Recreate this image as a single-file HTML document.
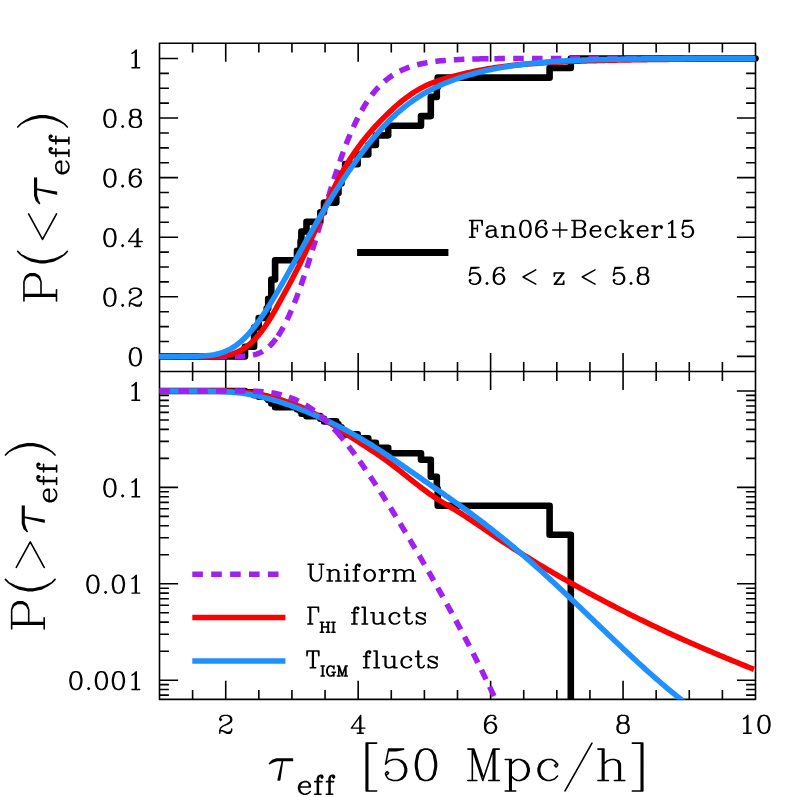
<!DOCTYPE html>
<html><head><meta charset="utf-8"><title>chart</title><style>html,body{margin:0;padding:0;background:#fff}svg{display:block}</style></head><body>
<svg width="797" height="797" viewBox="0 0 797 797">
<rect width="797" height="797" fill="#fff"/>
<defs><clipPath id="cb"><rect x="159.5" y="371.5" width="596" height="327.9"/></clipPath>
<clipPath id="ct"><rect x="159.5" y="43.2" width="602" height="328.3"/></clipPath></defs>
<g fill="none" stroke="#000" stroke-width="1.6" stroke-linejoin="round">
<path d="M192.61 43.2v9.4M192.61 362.1v18.8M192.61 699.4v-9.4M225.72 43.2v18.6M225.72 352.9v37.2M225.72 699.4v-18.6M258.83 43.2v9.4M258.83 362.1v18.8M258.83 699.4v-9.4M291.94 43.2v9.4M291.94 362.1v18.8M291.94 699.4v-9.4M325.06 43.2v9.4M325.06 362.1v18.8M325.06 699.4v-9.4M358.17 43.2v18.6M358.17 352.9v37.2M358.17 699.4v-18.6M391.28 43.2v9.4M391.28 362.1v18.8M391.28 699.4v-9.4M424.39 43.2v9.4M424.39 362.1v18.8M424.39 699.4v-9.4M457.5 43.2v9.4M457.5 362.1v18.8M457.5 699.4v-9.4M490.61 43.2v18.6M490.61 352.9v37.2M490.61 699.4v-18.6M523.72 43.2v9.4M523.72 362.1v18.8M523.72 699.4v-9.4M556.83 43.2v9.4M556.83 362.1v18.8M556.83 699.4v-9.4M589.94 43.2v9.4M589.94 362.1v18.8M589.94 699.4v-9.4M623.06 43.2v18.6M623.06 352.9v37.2M623.06 699.4v-18.6M656.17 43.2v9.4M656.17 362.1v18.8M656.17 699.4v-9.4M689.28 43.2v9.4M689.28 362.1v18.8M689.28 699.4v-9.4M722.39 43.2v9.4M722.39 362.1v18.8M722.39 699.4v-9.4M159.5 356.4h18.6M755.5 356.4h-18.6M159.5 341.5h9.4M755.5 341.5h-9.4M159.5 326.6h9.4M755.5 326.6h-9.4M159.5 311.71h9.4M755.5 311.71h-9.4M159.5 296.81h18.6M755.5 296.81h-18.6M159.5 281.91h9.4M755.5 281.91h-9.4M159.5 267.01h9.4M755.5 267.01h-9.4M159.5 252.12h9.4M755.5 252.12h-9.4M159.5 237.22h18.6M755.5 237.22h-18.6M159.5 222.32h9.4M755.5 222.32h-9.4M159.5 207.42h9.4M755.5 207.42h-9.4M159.5 192.53h9.4M755.5 192.53h-9.4M159.5 177.63h18.6M755.5 177.63h-18.6M159.5 162.73h9.4M755.5 162.73h-9.4M159.5 147.83h9.4M755.5 147.83h-9.4M159.5 132.94h9.4M755.5 132.94h-9.4M159.5 118.04h18.6M755.5 118.04h-18.6M159.5 103.14h9.4M755.5 103.14h-9.4M159.5 88.25h9.4M755.5 88.25h-9.4M159.5 73.35h9.4M755.5 73.35h-9.4M159.5 58.45h18.6M755.5 58.45h-18.6M159.5 391h18.6M755.5 391h-18.6M159.5 487.4h18.6M755.5 487.4h-18.6M159.5 458.38h9.4M755.5 458.38h-9.4M159.5 441.41h9.4M755.5 441.41h-9.4M159.5 429.36h9.4M755.5 429.36h-9.4M159.5 420.02h9.4M755.5 420.02h-9.4M159.5 412.39h9.4M755.5 412.39h-9.4M159.5 405.93h9.4M755.5 405.93h-9.4M159.5 400.34h9.4M755.5 400.34h-9.4M159.5 395.41h9.4M755.5 395.41h-9.4M159.5 583.8h18.6M755.5 583.8h-18.6M159.5 554.78h9.4M755.5 554.78h-9.4M159.5 537.81h9.4M755.5 537.81h-9.4M159.5 525.76h9.4M755.5 525.76h-9.4M159.5 516.42h9.4M755.5 516.42h-9.4M159.5 508.79h9.4M755.5 508.79h-9.4M159.5 502.33h9.4M755.5 502.33h-9.4M159.5 496.74h9.4M755.5 496.74h-9.4M159.5 491.81h9.4M755.5 491.81h-9.4M159.5 680.2h18.6M755.5 680.2h-18.6M159.5 651.18h9.4M755.5 651.18h-9.4M159.5 634.21h9.4M755.5 634.21h-9.4M159.5 622.16h9.4M755.5 622.16h-9.4M159.5 612.82h9.4M755.5 612.82h-9.4M159.5 605.19h9.4M755.5 605.19h-9.4M159.5 598.73h9.4M755.5 598.73h-9.4M159.5 593.14h9.4M755.5 593.14h-9.4M159.5 588.21h9.4M755.5 588.21h-9.4M159.5 695.13h9.4M755.5 695.13h-9.4M159.5 689.54h9.4M755.5 689.54h-9.4M159.5 684.61h9.4M755.5 684.61h-9.4"/>
<path d="M159.5 43.2H755.5V699.4H159.5Z M159.5 371.5H755.5" stroke-linecap="square"/>
</g>
<g fill="none" stroke-linejoin="round">
<path d="M159.5 356.4 L245 356.4 L245 346.79 L254.1 346.79 L254.1 337.18 L254.1 337.18 L254.1 327.57 L258.7 327.57 L258.7 317.95 L266.7 317.95 L266.7 308.34 L268.2 308.34 L268.2 298.73 L271.3 298.73 L271.3 289.12 L271.3 289.12 L271.3 279.51 L275.1 279.51 L275.1 269.9 L275.1 269.9 L275.1 260.29 L297 260.29 L297 250.68 L300.6 250.68 L300.6 241.06 L301.4 241.06 L301.4 231.45 L306.5 231.45 L306.5 221.84 L320.3 221.84 L320.3 212.23 L324 212.23 L324 202.62 L336.3 202.62 L336.3 193.01 L338.5 193.01 L338.5 183.4 L341.5 183.4 L341.5 173.79 L345.1 173.79 L345.1 164.17 L357.7 164.17 L357.7 154.56 L368.3 154.56 L368.3 144.95 L375.9 144.95 L375.9 135.34 L388.2 135.34 L388.2 125.73 L421 125.73 L421 116.12 L430.8 116.12 L430.8 106.51 L430.8 106.51 L430.8 96.9 L436.8 96.9 L436.8 87.28 L437.7 87.28 L437.7 77.67 L549.6 77.67 L549.6 68.06 L570.8 68.06 L570.8 58.45 L755.5 58.45" stroke="#000" stroke-width="6.6"/>
<circle cx="755.5" cy="58.45" r="3.3" fill="#000" stroke="none"/>
<path d="M159.5 356.4 L236.6 356.34 L238.6 356.3 L240.6 356.26 L242.6 356.19 L244.6 356.09 L246.6 355.94 L248.6 355.74 L250.6 355.46 L252.6 355.1 L254.6 354.63 L256.6 354.04 L258.6 353.32 L260.6 352.44 L262.6 351.38 L264.6 350.14 L266.6 348.69 L268.6 347.02 L270.6 345.13 L272.6 343 L274.6 340.61 L276.6 337.98 L278.6 335.08 L280.6 331.92 L282.6 328.49 L284.6 324.79 L286.6 320.84 L288.6 316.63 L290.6 312.17 L292.6 307.46 L294.6 302.53 L296.6 297.37 L298.6 292 L300.6 286.43 L302.6 280.67 L304.6 274.74 L306.6 268.64 L308.6 262.4 L310.6 256.01 L312.6 249.51 L314.6 242.92 L316.6 236.26 L318.6 229.56 L320.6 222.83 L322.6 216.11 L324.6 209.41 L326.6 202.77 L328.6 196.19 L330.6 189.71 L332.6 183.34 L334.6 177.09 L336.6 170.99 L338.6 165.05 L340.6 159.28 L342.6 153.7 L344.6 148.3 L346.6 143.1 L348.6 138.1 L350.6 133.32 L352.6 128.74 L354.6 124.37 L356.6 120.22 L358.6 116.27 L360.6 112.52 L362.6 108.98 L364.6 105.63 L366.6 102.46 L368.6 99.48 L370.6 96.67 L372.6 94.03 L374.6 91.55 L376.6 89.23 L378.6 87.05 L380.6 85.01 L382.6 83.1 L384.6 81.32 L386.6 79.65 L388.6 78.1 L390.6 76.65 L392.6 75.31 L394.6 74.05 L396.6 72.89 L398.6 71.8 L400.6 70.79 L402.6 69.86 L404.6 68.99 L406.6 68.18 L408.6 67.44 L410.6 66.74 L412.6 66.1 L414.6 65.51 L416.6 64.96 L418.6 64.45 L420.6 63.98 L422.6 63.54 L424.6 63.14 L426.6 62.77 L428.6 62.43 L430.6 62.11 L432.6 61.82 L434.6 61.54 L436.6 61.29 L438.6 61.06 L440.6 60.85 L442.6 60.65 L444.6 60.47 L446.6 60.31 L448.6 60.15 L450.6 60.01 L452.6 59.88 L454.6 59.76 L456.6 59.65 L458.6 59.55 L460.6 59.45 L462.6 59.37 L464.6 59.29 L466.6 59.21 L468.6 59.15 L470.6 59.09 L472.6 59.03 L474.6 58.98 L476.6 58.93 L478.6 58.89 L480.6 58.85 L482.6 58.81 L484.6 58.78 L486.6 58.75 L488.6 58.72 L490.6 58.69 L492.6 58.67 L494.6 58.65 L496.6 58.63 L498.6 58.61 L500.6 58.59 L502.6 58.58 L504.6 58.57 L755.5 58.45" stroke="#a020f0" stroke-width="5.5" stroke-dasharray="12.35 7.85 10.5 7.85 10.5 7.85 10.5 7.85 10.5 7.85 10.5 7.85 10.5 3.3 10.5 8.05 10.5 8.05 10.5 8.05 10.5 8.05 10.5 8.05 10.5 8.05 10.5 8.05 10.5 8.05 10.5 8.05 10.5 8.05 10.5 8.05 10.5 8.05 10.5 8.05 10.5 8.05 10.5 8.05 10.5 8.05 10.5 8.05 10.5 8.05 10.5 8.05 10.5 7.9 16.3 5.85 10.5 8.3 10.5 8.3 10.5 8.3 10.5 8.3 10.5 8.3 10.5 8.3 10.5 8.3 10.5 8.3 10.5 8.3 10.5 8.3 10.5 8.3 10.5 8.3 10.5 8.3 10.5 8.3 10.5 10000"/>
<path d="M159.5 356.4 L210 356.34 L212 356.31 L214 356.26 L216 356.2 L218 356.12 L220 356.01 L222 355.85 L224 355.63 L226 355.35 L228 355 L230 354.56 L232 354.02 L234 353.38 L236 352.63 L238 351.75 L240 350.75 L242 349.62 L244 348.36 L246 346.96 L248 345.43 L250 343.76 L252 341.96 L254 340.01 L256 337.92 L258 335.68 L260 333.28 L262 330.71 L264 327.96 L266 325.06 L268 322 L270 318.81 L272 315.49 L274 312.06 L276 308.54 L278 304.96 L280 301.34 L282 297.7 L284 294.05 L286 290.38 L288 286.7 L290 282.99 L292 279.24 L294 275.45 L296 271.6 L298 267.68 L300 263.66 L302 259.54 L304 255.33 L306 251.01 L308 246.62 L310 242.15 L312 237.63 L314 233.05 L316 228.43 L318 223.8 L320 219.17 L322 214.55 L324 209.97 L326 205.44 L328 200.97 L330 196.59 L332 192.3 L334 188.13 L336 184.09 L338 180.18 L340 176.4 L342 172.74 L344 169.21 L346 165.79 L348 162.5 L350 159.31 L352 156.22 L354 153.24 L356 150.35 L358 147.55 L360 144.84 L362 142.21 L364 139.66 L366 137.17 L368 134.76 L370 132.41 L372 130.11 L374 127.87 L376 125.68 L378 123.54 L380 121.44 L382 119.39 L384 117.37 L386 115.38 L388 113.43 L390 111.52 L392 109.64 L394 107.81 L396 106.03 L398 104.29 L400 102.61 L402 100.97 L404 99.39 L406 97.86 L408 96.38 L410 94.97 L412 93.6 L414 92.29 L416 91.04 L418 89.84 L420 88.7 L422 87.62 L424 86.58 L426 85.6 L428 84.68 L430 83.8 L432 82.98 L434 82.2 L436 81.46 L438 80.76 L440 80.1 L442 79.47 L444 78.86 L446 78.28 L448 77.71 L450 77.17 L452 76.64 L454 76.13 L456 75.62 L458 75.13 L460 74.64 L462 74.16 L464 73.69 L466 73.23 L468 72.77 L470 72.32 L472 71.88 L474 71.46 L476 71.04 L478 70.64 L480 70.24 L482 69.86 L484 69.49 L486 69.14 L488 68.79 L490 68.46 L492 68.14 L494 67.84 L496 67.54 L498 67.26 L500 66.98 L502 66.71 L504 66.46 L506 66.21 L508 65.97 L510 65.75 L512 65.52 L514 65.31 L516 65.1 L518 64.91 L520 64.71 L522 64.53 L524 64.35 L526 64.18 L528 64.01 L530 63.85 L532 63.69 L534 63.54 L536 63.4 L538 63.25 L540 63.12 L542 62.99 L544 62.86 L546 62.74 L548 62.62 L550 62.5 L552 62.39 L554 62.28 L556 62.18 L558 62.07 L560 61.97 L562 61.88 L564 61.79 L566 61.7 L568 61.61 L570 61.53 L572 61.44 L574 61.36 L576 61.29 L578 61.21 L580 61.14 L582 61.07 L584 61 L586 60.94 L588 60.87 L590 60.81 L592 60.75 L594 60.69 L596 60.63 L598 60.58 L600 60.52 L602 60.47 L604 60.42 L606 60.37 L608 60.33 L610 60.28 L612 60.23 L614 60.19 L616 60.15 L618 60.11 L620 60.07 L622 60.03 L624 59.99 L626 59.95 L628 59.92 L630 59.88 L632 59.85 L634 59.82 L636 59.79 L638 59.75 L640 59.72 L642 59.69 L644 59.67 L646 59.64 L648 59.61 L650 59.59 L652 59.56 L654 59.53 L656 59.51 L658 59.49 L660 59.46 L662 59.44 L664 59.42 L666 59.4 L668 59.38 L670 59.36 L672 59.34 L674 59.32 L676 59.3 L678 59.28 L680 59.26 L682 59.25 L684 59.23 L686 59.21 L688 59.2 L690 59.18 L692 59.17 L694 59.15 L696 59.14 L698 59.12 L700 59.11 L702 59.1 L704 59.08 L706 59.07 L708 59.06 L710 59.05 L712 59.03 L714 59.02 L716 59.01 L718 59 L720 58.99 L722 58.98 L724 58.97 L726 58.96 L728 58.95 L730 58.94 L732 58.93 L734 58.92 L736 58.91 L738 58.9 L740 58.89 L742 58.88 L744 58.87 L746 58.87 L748 58.86 L750 58.85 L752 58.84 L754 58.84 L755.5 58.45" stroke="#ff0000" stroke-width="5.5"/>
<path d="M159.5 356.4 L188.2 356.34 L190.2 356.32 L192.2 356.29 L194.2 356.25 L196.2 356.21 L198.2 356.15 L200.2 356.08 L202.2 355.98 L204.2 355.86 L206.2 355.72 L208.2 355.53 L210.2 355.31 L212.2 355.02 L214.2 354.68 L216.2 354.27 L218.2 353.8 L220.2 353.24 L222.2 352.6 L224.2 351.87 L226.2 351.05 L228.2 350.11 L230.2 349.07 L232.2 347.92 L234.2 346.65 L236.2 345.26 L238.2 343.74 L240.2 342.1 L242.2 340.34 L244.2 338.45 L246.2 336.44 L248.2 334.31 L250.2 332.05 L252.2 329.69 L254.2 327.2 L256.2 324.61 L258.2 321.92 L260.2 319.13 L262.2 316.24 L264.2 313.27 L266.2 310.21 L268.2 307.08 L270.2 303.88 L272.2 300.62 L274.2 297.3 L276.2 293.93 L278.2 290.52 L280.2 287.07 L282.2 283.59 L284.2 280.08 L286.2 276.54 L288.2 272.99 L290.2 269.43 L292.2 265.86 L294.2 262.28 L296.2 258.7 L298.2 255.13 L300.2 251.56 L302.2 248 L304.2 244.44 L306.2 240.9 L308.2 237.37 L310.2 233.86 L312.2 230.37 L314.2 226.89 L316.2 223.43 L318.2 220 L320.2 216.59 L322.2 213.21 L324.2 209.85 L326.2 206.52 L328.2 203.23 L330.2 199.96 L332.2 196.73 L334.2 193.52 L336.2 190.35 L338.2 187.22 L340.2 184.12 L342.2 181.05 L344.2 178.02 L346.2 175.02 L348.2 172.06 L350.2 169.13 L352.2 166.24 L354.2 163.38 L356.2 160.56 L358.2 157.79 L360.2 155.05 L362.2 152.36 L364.2 149.72 L366.2 147.11 L368.2 144.56 L370.2 142.06 L372.2 139.6 L374.2 137.19 L376.2 134.83 L378.2 132.53 L380.2 130.27 L382.2 128.07 L384.2 125.92 L386.2 123.82 L388.2 121.77 L390.2 119.77 L392.2 117.83 L394.2 115.94 L396.2 114.1 L398.2 112.31 L400.2 110.57 L402.2 108.88 L404.2 107.24 L406.2 105.66 L408.2 104.12 L410.2 102.63 L412.2 101.19 L414.2 99.79 L416.2 98.44 L418.2 97.13 L420.2 95.87 L422.2 94.65 L424.2 93.47 L426.2 92.32 L428.2 91.22 L430.2 90.15 L432.2 89.12 L434.2 88.12 L436.2 87.15 L438.2 86.22 L440.2 85.31 L442.2 84.44 L444.2 83.59 L446.2 82.77 L448.2 81.97 L450.2 81.2 L452.2 80.45 L454.2 79.72 L456.2 79.01 L458.2 78.33 L460.2 77.66 L462.2 77.01 L464.2 76.38 L466.2 75.77 L468.2 75.18 L470.2 74.6 L472.2 74.04 L474.2 73.5 L476.2 72.97 L478.2 72.46 L480.2 71.97 L482.2 71.49 L484.2 71.02 L486.2 70.57 L488.2 70.13 L490.2 69.7 L492.2 69.29 L494.2 68.89 L496.2 68.5 L498.2 68.13 L500.2 67.76 L502.2 67.41 L504.2 67.07 L506.2 66.74 L508.2 66.42 L510.2 66.11 L512.2 65.81 L514.2 65.53 L516.2 65.25 L518.2 64.98 L520.2 64.72 L522.2 64.46 L524.2 64.22 L526.2 63.99 L528.2 63.76 L530.2 63.54 L532.2 63.33 L534.2 63.13 L536.2 62.93 L538.2 62.75 L540.2 62.57 L542.2 62.39 L544.2 62.23 L546.2 62.06 L548.2 61.91 L550.2 61.76 L552.2 61.62 L554.2 61.48 L556.2 61.35 L558.2 61.22 L560.2 61.1 L562.2 60.99 L564.2 60.88 L566.2 60.77 L568.2 60.67 L570.2 60.57 L572.2 60.48 L574.2 60.39 L576.2 60.3 L578.2 60.22 L580.2 60.14 L582.2 60.06 L584.2 59.99 L586.2 59.92 L588.2 59.86 L590.2 59.79 L592.2 59.73 L594.2 59.68 L596.2 59.62 L598.2 59.57 L600.2 59.52 L602.2 59.47 L604.2 59.42 L606.2 59.38 L608.2 59.34 L610.2 59.3 L612.2 59.26 L614.2 59.23 L616.2 59.19 L618.2 59.16 L620.2 59.13 L622.2 59.1 L624.2 59.07 L626.2 59.04 L628.2 59.02 L630.2 58.99 L632.2 58.97 L634.2 58.94 L636.2 58.92 L638.2 58.9 L640.2 58.88 L642.2 58.87 L644.2 58.85 L646.2 58.83 L648.2 58.81 L650.2 58.8 L652.2 58.78 L654.2 58.77 L656.2 58.76 L658.2 58.75 L660.2 58.73 L662.2 58.72 L664.2 58.71 L666.2 58.7 L668.2 58.69 L670.2 58.68 L672.2 58.67 L674.2 58.66 L676.2 58.66 L678.2 58.65 L680.2 58.64 L682.2 58.63 L684.2 58.63 L686.2 58.62 L688.2 58.62 L690.2 58.61 L692.2 58.6 L694.2 58.6 L696.2 58.59 L698.2 58.59 L755.5 58.45" stroke="#1e90ff" stroke-width="5.5"/>
</g>
<g fill="none" stroke-linejoin="round" clip-path="url(#cb)">
<path d="M159.5 391 L245 391 L245 392.37 L254.1 392.37 L254.1 393.79 L254.1 393.79 L254.1 395.26 L258.7 395.26 L258.7 396.78 L266.7 396.78 L266.7 398.36 L268.2 398.36 L268.2 400.01 L271.3 400.01 L271.3 401.71 L271.3 401.71 L271.3 403.5 L275.1 403.5 L275.1 405.36 L275.1 405.36 L275.1 407.31 L297 407.31 L297 409.35 L300.6 409.35 L300.6 411.5 L301.4 411.5 L301.4 413.76 L306.5 413.76 L306.5 416.15 L320.3 416.15 L320.3 418.69 L324 418.69 L324 421.39 L336.3 421.39 L336.3 424.28 L338.5 424.28 L338.5 427.38 L341.5 427.38 L341.5 430.73 L345.1 430.73 L345.1 434.38 L357.7 434.38 L357.7 438.37 L368.3 438.37 L368.3 442.78 L375.9 442.78 L375.9 447.71 L388.2 447.71 L388.2 453.3 L421 453.3 L421 459.75 L430.8 459.75 L430.8 467.39 L430.8 467.39 L430.8 476.73 L436.8 476.73 L436.8 488.77 L437.7 488.77 L437.7 505.75 L549.6 505.75 L549.6 534.77 L570.8 534.77 L570.8 699.4" stroke="#000" stroke-width="6.6"/>
<path d="M159.5 391 L210 391.01 L212 391.01 L214 391.02 L216 391.03 L218 391.04 L220 391.06 L222 391.08 L224 391.11 L226 391.15 L228 391.2 L230 391.26 L232 391.34 L234 391.43 L236 391.53 L238 391.66 L240 391.8 L242 391.96 L244 392.15 L246 392.35 L248 392.57 L250 392.81 L252 393.08 L254 393.37 L256 393.68 L258 394.02 L260 394.38 L262 394.78 L264 395.2 L266 395.65 L268 396.14 L270 396.65 L272 397.18 L274 397.75 L276 398.33 L278 398.93 L280 399.55 L282 400.19 L284 400.83 L286 401.49 L288 402.16 L290 402.84 L292 403.55 L294 404.27 L296 405.02 L298 405.8 L300 406.61 L302 407.46 L304 408.35 L306 409.27 L308 410.24 L310 411.25 L312 412.29 L314 413.37 L316 414.5 L318 415.65 L320 416.84 L322 418.06 L324 419.31 L326 420.58 L328 421.87 L330 423.18 L332 424.5 L334 425.83 L336 427.15 L338 428.48 L340 429.8 L342 431.12 L344 432.43 L346 433.74 L348 435.05 L350 436.35 L352 437.65 L354 438.95 L356 440.24 L358 441.54 L360 442.83 L362 444.13 L364 445.42 L366 446.72 L368 448.03 L370 449.34 L372 450.66 L374 451.99 L376 453.33 L378 454.68 L380 456.05 L382 457.44 L384 458.86 L386 460.29 L388 461.75 L390 463.23 L392 464.74 L394 466.26 L396 467.8 L398 469.36 L400 470.93 L402 472.51 L404 474.1 L406 475.69 L408 477.29 L410 478.88 L412 480.48 L414 482.07 L416 483.64 L418 485.21 L420 486.76 L422 488.29 L424 489.8 L426 491.29 L428 492.74 L430 494.16 L432 495.54 L434 496.89 L436 498.21 L438 499.5 L440 500.77 L442 502.01 L444 503.24 L446 504.46 L448 505.66 L450 506.86 L452 508.06 L454 509.26 L456 510.47 L458 511.69 L460 512.93 L462 514.19 L464 515.47 L466 516.76 L468 518.08 L470 519.41 L472 520.75 L474 522.1 L476 523.46 L478 524.83 L480 526.2 L482 527.57 L484 528.95 L486 530.32 L488 531.69 L490 533.05 L492 534.41 L494 535.76 L496 537.1 L498 538.43 L500 539.76 L502 541.09 L504 542.4 L506 543.71 L508 545.01 L510 546.31 L512 547.6 L514 548.88 L516 550.16 L518 551.43 L520 552.7 L522 553.95 L524 555.21 L526 556.45 L528 557.69 L530 558.92 L532 560.15 L534 561.37 L536 562.59 L538 563.8 L540 565 L542 566.2 L544 567.39 L546 568.58 L548 569.76 L550 570.94 L552 572.12 L554 573.28 L556 574.45 L558 575.61 L560 576.76 L562 577.91 L564 579.06 L566 580.2 L568 581.34 L570 582.47 L572 583.6 L574 584.73 L576 585.85 L578 586.96 L580 588.07 L582 589.18 L584 590.28 L586 591.38 L588 592.48 L590 593.57 L592 594.65 L594 595.73 L596 596.81 L598 597.88 L600 598.95 L602 600.01 L604 601.07 L606 602.12 L608 603.17 L610 604.22 L612 605.26 L614 606.29 L616 607.33 L618 608.35 L620 609.38 L622 610.39 L624 611.41 L626 612.42 L628 613.42 L630 614.43 L632 615.42 L634 616.42 L636 617.4 L638 618.39 L640 619.37 L642 620.34 L644 621.31 L646 622.28 L648 623.25 L650 624.2 L652 625.16 L654 626.11 L656 627.06 L658 628 L660 628.94 L662 629.87 L664 630.8 L666 631.73 L668 632.66 L670 633.58 L672 634.49 L674 635.4 L676 636.31 L678 637.22 L680 638.12 L682 639.02 L684 639.91 L686 640.8 L688 641.69 L690 642.57 L692 643.45 L694 644.33 L696 645.2 L698 646.07 L700 646.94 L702 647.81 L704 648.67 L706 649.53 L708 650.38 L710 651.23 L712 652.08 L714 652.93 L716 653.77 L718 654.62 L720 655.45 L722 656.29 L724 657.12 L726 657.96 L728 658.78 L730 659.61 L732 660.43 L734 661.26 L736 662.08 L738 662.89 L740 663.71 L742 664.52 L744 665.33 L746 666.14 L748 666.95 L750 667.76 L752 668.56 L754 669.37" stroke="#ff0000" stroke-width="5.5"/>
<path d="M159.5 391 L188.2 391.01 L190.2 391.01 L192.2 391.02 L194.2 391.02 L196.2 391.03 L198.2 391.04 L200.2 391.05 L202.2 391.06 L204.2 391.08 L206.2 391.1 L208.2 391.12 L210.2 391.15 L212.2 391.19 L214.2 391.24 L216.2 391.3 L218.2 391.37 L220.2 391.45 L222.2 391.54 L224.2 391.64 L226.2 391.76 L228.2 391.89 L230.2 392.04 L232.2 392.21 L234.2 392.39 L236.2 392.6 L238.2 392.82 L240.2 393.06 L242.2 393.32 L244.2 393.6 L246.2 393.9 L248.2 394.23 L250.2 394.57 L252.2 394.93 L254.2 395.32 L256.2 395.72 L258.2 396.15 L260.2 396.59 L262.2 397.06 L264.2 397.55 L266.2 398.05 L268.2 398.58 L270.2 399.12 L272.2 399.68 L274.2 400.26 L276.2 400.85 L278.2 401.46 L280.2 402.09 L282.2 402.73 L284.2 403.39 L286.2 404.06 L288.2 404.75 L290.2 405.45 L292.2 406.17 L294.2 406.89 L296.2 407.64 L298.2 408.39 L300.2 409.16 L302.2 409.94 L304.2 410.73 L306.2 411.53 L308.2 412.35 L310.2 413.18 L312.2 414.02 L314.2 414.88 L316.2 415.75 L318.2 416.63 L320.2 417.52 L322.2 418.43 L324.2 419.34 L326.2 420.27 L328.2 421.22 L330.2 422.17 L332.2 423.14 L334.2 424.12 L336.2 425.11 L338.2 426.12 L340.2 427.14 L342.2 428.18 L344.2 429.23 L346.2 430.29 L348.2 431.37 L350.2 432.46 L352.2 433.57 L354.2 434.69 L356.2 435.83 L358.2 436.99 L360.2 438.15 L362.2 439.34 L364.2 440.53 L366.2 441.74 L368.2 442.97 L370.2 444.2 L372.2 445.45 L374.2 446.71 L376.2 447.99 L378.2 449.27 L380.2 450.56 L382.2 451.87 L384.2 453.18 L386.2 454.51 L388.2 455.84 L390.2 457.18 L392.2 458.53 L394.2 459.88 L396.2 461.25 L398.2 462.61 L400.2 463.99 L402.2 465.37 L404.2 466.75 L406.2 468.13 L408.2 469.52 L410.2 470.91 L412.2 472.3 L414.2 473.69 L416.2 475.08 L418.2 476.47 L420.2 477.86 L422.2 479.25 L424.2 480.64 L426.2 482.03 L428.2 483.42 L430.2 484.81 L432.2 486.19 L434.2 487.58 L436.2 488.96 L438.2 490.35 L440.2 491.74 L442.2 493.13 L444.2 494.52 L446.2 495.91 L448.2 497.3 L450.2 498.7 L452.2 500.11 L454.2 501.51 L456.2 502.93 L458.2 504.35 L460.2 505.78 L462.2 507.21 L464.2 508.65 L466.2 510.1 L468.2 511.56 L470.2 513.03 L472.2 514.51 L474.2 515.99 L476.2 517.48 L478.2 518.98 L480.2 520.49 L482.2 522.01 L484.2 523.54 L486.2 525.07 L488.2 526.62 L490.2 528.17 L492.2 529.74 L494.2 531.31 L496.2 532.89 L498.2 534.48 L500.2 536.09 L502.2 537.7 L504.2 539.32 L506.2 540.95 L508.2 542.6 L510.2 544.25 L512.2 545.92 L514.2 547.59 L516.2 549.28 L518.2 550.98 L520.2 552.68 L522.2 554.4 L524.2 556.13 L526.2 557.86 L528.2 559.61 L530.2 561.36 L532.2 563.13 L534.2 564.9 L536.2 566.68 L538.2 568.47 L540.2 570.27 L542.2 572.08 L544.2 573.89 L546.2 575.71 L548.2 577.54 L550.2 579.38 L552.2 581.22 L554.2 583.07 L556.2 584.92 L558.2 586.78 L560.2 588.65 L562.2 590.52 L564.2 592.4 L566.2 594.28 L568.2 596.17 L570.2 598.06 L572.2 599.96 L574.2 601.86 L576.2 603.76 L578.2 605.67 L580.2 607.58 L582.2 609.49 L584.2 611.4 L586.2 613.32 L588.2 615.24 L590.2 617.15 L592.2 619.07 L594.2 620.99 L596.2 622.91 L598.2 624.84 L600.2 626.76 L602.2 628.67 L604.2 630.59 L606.2 632.51 L608.2 634.42 L610.2 636.34 L612.2 638.25 L614.2 640.15 L616.2 642.06 L618.2 643.96 L620.2 645.85 L622.2 647.74 L624.2 649.63 L626.2 651.51 L628.2 653.38 L630.2 655.25 L632.2 657.12 L634.2 658.97 L636.2 660.82 L638.2 662.66 L640.2 664.49 L642.2 666.32 L644.2 668.13 L646.2 669.94 L648.2 671.73 L650.2 673.52 L652.2 675.29 L654.2 677.06 L656.2 678.81 L658.2 680.55 L660.2 682.28 L662.2 683.99 L664.2 685.7 L666.2 687.38 L668.2 689.06 L670.2 690.72 L672.2 692.36 L674.2 693.99 L676.2 695.61 L678.2 697.2 L680.2 698.78 L682.2 700.35 L684.2 701.89 L686.2 703.42 L688.2 704.93 L690.2 706.42 L692.2 707.89" stroke="#1e90ff" stroke-width="5.5"/>
<path d="M159.5 391 L236.6 391.01 L238.6 391.01 L240.6 391.02 L242.6 391.03 L244.6 391.04 L246.6 391.06 L248.6 391.09 L250.6 391.13 L252.6 391.18 L254.6 391.25 L256.6 391.33 L258.6 391.44 L260.6 391.56 L262.6 391.71 L264.6 391.89 L266.6 392.1 L268.6 392.34 L270.6 392.61 L272.6 392.93 L274.6 393.28 L276.6 393.67 L278.6 394.11 L280.6 394.59 L282.6 395.12 L284.6 395.69 L286.6 396.32 L288.6 397 L290.6 397.73 L292.6 398.51 L294.6 399.35 L296.6 400.24 L298.6 401.2 L300.6 402.21 L302.6 403.28 L304.6 404.41 L306.6 405.61 L308.6 406.87 L310.6 408.2 L312.6 409.6 L314.6 411.07 L316.6 412.61 L318.6 414.22 L320.6 415.9 L322.6 417.65 L324.6 419.46 L326.6 421.35 L328.6 423.3 L330.6 425.32 L332.6 427.4 L334.6 429.55 L336.6 431.76 L338.6 434.03 L340.6 436.36 L342.6 438.75 L344.6 441.19 L346.6 443.68 L348.6 446.23 L350.6 448.83 L352.6 451.47 L354.6 454.15 L356.6 456.88 L358.6 459.64 L360.6 462.45 L362.6 465.29 L364.6 468.16 L366.6 471.07 L368.6 474 L370.6 476.97 L372.6 479.97 L374.6 482.99 L376.6 486.04 L378.6 489.11 L380.6 492.21 L382.6 495.33 L384.6 498.48 L386.6 501.64 L388.6 504.82 L390.6 508.03 L392.6 511.25 L394.6 514.48 L396.6 517.74 L398.6 521.01 L400.6 524.29 L402.6 527.59 L404.6 530.91 L406.6 534.24 L408.6 537.58 L410.6 540.94 L412.6 544.3 L414.6 547.69 L416.6 551.08 L418.6 554.49 L420.6 557.91 L422.6 561.34 L424.6 564.79 L426.6 568.24 L428.6 571.72 L430.6 575.2 L432.6 578.7 L434.6 582.21 L436.6 585.74 L438.6 589.28 L440.6 592.83 L442.6 596.4 L444.6 599.99 L446.6 603.59 L448.6 607.22 L450.6 610.86 L452.6 614.51 L454.6 618.19 L456.6 621.89 L458.6 625.61 L460.6 629.35 L462.6 633.12 L464.6 636.91 L466.6 640.72 L468.6 644.56 L470.6 648.43 L472.6 652.33 L474.6 656.26 L476.6 660.22 L478.6 664.21 L480.6 668.24 L482.6 672.3 L484.6 676.4 L486.6 680.53 L488.6 684.71 L490.6 688.93 L492.6 693.19 L494.6 697.49 L496.6 701.85 L498.6 706.25 L500.6 710.66" stroke="#a020f0" stroke-width="5.5" stroke-dasharray="10.65 8.3 10.5 8.3 10.5 8.3 10.5 8.3 10.5 7.7 10.5 7.9 10.5 7.6 10.5 7.8 10.5 7.9 10.5 8.25 15 7.85 10.5 8.11 10.5 8.11 10.5 8.11 10.5 8.11 10.5 8.11 10.5 8.11 10.5 8.11 10.5 8.11 10.5 8.11 10.5 8.11 10.5 8.11 10.5 8.11 10.5 8.11 10.5 8.11 10.5 8.11 10.5 10000"/>
</g>
<path d="M357.1 252.4H448.4" stroke="#000" stroke-width="7" fill="none"/>
<path d="M192.3 574.3H285.4" stroke="#a020f0" stroke-width="5.4" stroke-dasharray="10.6 8.3" fill="none"/>
<path d="M192.3 617.5H285.4" stroke="#ff0000" stroke-width="5.5" fill="none"/>
<path d="M192.3 661.1H285.4" stroke="#1e90ff" stroke-width="5.5" fill="none"/>
<path d="M-11.9 -14.45 L-10.2 -15.3 L-7.65 -17.85 L-7.65 0 M-8.5 -17 L-8.5 0 M-11.9 0 L-4.25 0" transform="translate(143.9 67.77) rotate(0) scale(1 1)" vector-effect="non-scaling-stroke" fill="none" stroke="#000" stroke-width="1.45" stroke-linecap="round" stroke-linejoin="round"/>
<path d="M-34.85 -17.85 L-37.4 -17 L-39.1 -14.45 L-39.95 -10.2 L-39.95 -7.65 L-39.1 -3.4 L-37.4 -0.85 L-34.85 0 L-33.15 0 L-30.6 -0.85 L-28.9 -3.4 L-28.05 -7.65 L-28.05 -10.2 L-28.9 -14.45 L-30.6 -17 L-33.15 -17.85 L-34.85 -17.85 M-34.85 -17.85 L-36.55 -17 L-37.4 -16.15 L-38.25 -14.45 L-39.1 -10.2 L-39.1 -7.65 L-38.25 -3.4 L-37.4 -1.7 L-36.55 -0.85 L-34.85 0 M-33.15 0 L-31.45 -0.85 L-30.6 -1.7 L-29.75 -3.4 L-28.9 -7.65 L-28.9 -10.2 L-29.75 -14.45 L-30.6 -16.15 L-31.45 -17 L-33.15 -17.85 M-21.25 -1.7 L-22.1 -0.85 L-21.25 0 L-20.4 -0.85 L-21.25 -1.7 M-10.2 -17.85 L-12.75 -17 L-13.6 -15.3 L-13.6 -12.75 L-12.75 -11.05 L-10.2 -10.2 L-6.8 -10.2 L-4.25 -11.05 L-3.4 -12.75 L-3.4 -15.3 L-4.25 -17 L-6.8 -17.85 L-10.2 -17.85 M-10.2 -17.85 L-11.9 -17 L-12.75 -15.3 L-12.75 -12.75 L-11.9 -11.05 L-10.2 -10.2 M-6.8 -10.2 L-5.1 -11.05 L-4.25 -12.75 L-4.25 -15.3 L-5.1 -17 L-6.8 -17.85 M-10.2 -10.2 L-12.75 -9.35 L-13.6 -8.5 L-14.45 -6.8 L-14.45 -3.4 L-13.6 -1.7 L-12.75 -0.85 L-10.2 0 L-6.8 0 L-4.25 -0.85 L-3.4 -1.7 L-2.55 -3.4 L-2.55 -6.8 L-3.4 -8.5 L-4.25 -9.35 L-6.8 -10.2 M-10.2 -10.2 L-11.9 -9.35 L-12.75 -8.5 L-13.6 -6.8 L-13.6 -3.4 L-12.75 -1.7 L-11.9 -0.85 L-10.2 0 M-6.8 0 L-5.1 -0.85 L-4.25 -1.7 L-3.4 -3.4 L-3.4 -6.8 L-4.25 -8.5 L-5.1 -9.35 L-6.8 -10.2" transform="translate(143.9 127.36) rotate(0) scale(1 1)" vector-effect="non-scaling-stroke" fill="none" stroke="#000" stroke-width="1.45" stroke-linecap="round" stroke-linejoin="round"/>
<path d="M-34.85 -17.85 L-37.4 -17 L-39.1 -14.45 L-39.95 -10.2 L-39.95 -7.65 L-39.1 -3.4 L-37.4 -0.85 L-34.85 0 L-33.15 0 L-30.6 -0.85 L-28.9 -3.4 L-28.05 -7.65 L-28.05 -10.2 L-28.9 -14.45 L-30.6 -17 L-33.15 -17.85 L-34.85 -17.85 M-34.85 -17.85 L-36.55 -17 L-37.4 -16.15 L-38.25 -14.45 L-39.1 -10.2 L-39.1 -7.65 L-38.25 -3.4 L-37.4 -1.7 L-36.55 -0.85 L-34.85 0 M-33.15 0 L-31.45 -0.85 L-30.6 -1.7 L-29.75 -3.4 L-28.9 -7.65 L-28.9 -10.2 L-29.75 -14.45 L-30.6 -16.15 L-31.45 -17 L-33.15 -17.85 M-21.25 -1.7 L-22.1 -0.85 L-21.25 0 L-20.4 -0.85 L-21.25 -1.7 M-4.25 -15.3 L-5.1 -14.45 L-4.25 -13.6 L-3.4 -14.45 L-3.4 -15.3 L-4.25 -17 L-5.95 -17.85 L-8.5 -17.85 L-11.05 -17 L-12.75 -15.3 L-13.6 -13.6 L-14.45 -10.2 L-14.45 -5.1 L-13.6 -2.55 L-11.9 -0.85 L-9.35 0 L-7.65 0 L-5.1 -0.85 L-3.4 -2.55 L-2.55 -5.1 L-2.55 -5.95 L-3.4 -8.5 L-5.1 -10.2 L-7.65 -11.05 L-8.5 -11.05 L-11.05 -10.2 L-12.75 -8.5 L-13.6 -5.95 M-8.5 -17.85 L-10.2 -17 L-11.9 -15.3 L-12.75 -13.6 L-13.6 -10.2 L-13.6 -5.1 L-12.75 -2.55 L-11.05 -0.85 L-9.35 0 M-7.65 0 L-5.95 -0.85 L-4.25 -2.55 L-3.4 -5.1 L-3.4 -5.95 L-4.25 -8.5 L-5.95 -10.2 L-7.65 -11.05" transform="translate(143.9 186.96) rotate(0) scale(1 1)" vector-effect="non-scaling-stroke" fill="none" stroke="#000" stroke-width="1.45" stroke-linecap="round" stroke-linejoin="round"/>
<path d="M-34.85 -17.85 L-37.4 -17 L-39.1 -14.45 L-39.95 -10.2 L-39.95 -7.65 L-39.1 -3.4 L-37.4 -0.85 L-34.85 0 L-33.15 0 L-30.6 -0.85 L-28.9 -3.4 L-28.05 -7.65 L-28.05 -10.2 L-28.9 -14.45 L-30.6 -17 L-33.15 -17.85 L-34.85 -17.85 M-34.85 -17.85 L-36.55 -17 L-37.4 -16.15 L-38.25 -14.45 L-39.1 -10.2 L-39.1 -7.65 L-38.25 -3.4 L-37.4 -1.7 L-36.55 -0.85 L-34.85 0 M-33.15 0 L-31.45 -0.85 L-30.6 -1.7 L-29.75 -3.4 L-28.9 -7.65 L-28.9 -10.2 L-29.75 -14.45 L-30.6 -16.15 L-31.45 -17 L-33.15 -17.85 M-21.25 -1.7 L-22.1 -0.85 L-21.25 0 L-20.4 -0.85 L-21.25 -1.7 M-6.8 -16.15 L-6.8 0 M-5.95 -17.85 L-5.95 0 M-5.95 -17.85 L-15.3 -5.1 L-1.7 -5.1 M-9.35 0 L-3.4 0" transform="translate(143.9 246.54) rotate(0) scale(1 1)" vector-effect="non-scaling-stroke" fill="none" stroke="#000" stroke-width="1.45" stroke-linecap="round" stroke-linejoin="round"/>
<path d="M-34.85 -17.85 L-37.4 -17 L-39.1 -14.45 L-39.95 -10.2 L-39.95 -7.65 L-39.1 -3.4 L-37.4 -0.85 L-34.85 0 L-33.15 0 L-30.6 -0.85 L-28.9 -3.4 L-28.05 -7.65 L-28.05 -10.2 L-28.9 -14.45 L-30.6 -17 L-33.15 -17.85 L-34.85 -17.85 M-34.85 -17.85 L-36.55 -17 L-37.4 -16.15 L-38.25 -14.45 L-39.1 -10.2 L-39.1 -7.65 L-38.25 -3.4 L-37.4 -1.7 L-36.55 -0.85 L-34.85 0 M-33.15 0 L-31.45 -0.85 L-30.6 -1.7 L-29.75 -3.4 L-28.9 -7.65 L-28.9 -10.2 L-29.75 -14.45 L-30.6 -16.15 L-31.45 -17 L-33.15 -17.85 M-21.25 -1.7 L-22.1 -0.85 L-21.25 0 L-20.4 -0.85 L-21.25 -1.7 M-13.6 -14.45 L-12.75 -13.6 L-13.6 -12.75 L-14.45 -13.6 L-14.45 -14.45 L-13.6 -16.15 L-12.75 -17 L-10.2 -17.85 L-6.8 -17.85 L-4.25 -17 L-3.4 -16.15 L-2.55 -14.45 L-2.55 -12.75 L-3.4 -11.05 L-5.95 -9.35 L-10.2 -7.65 L-11.9 -6.8 L-13.6 -5.1 L-14.45 -2.55 L-14.45 0 M-6.8 -17.85 L-5.1 -17 L-4.25 -16.15 L-3.4 -14.45 L-3.4 -12.75 L-4.25 -11.05 L-6.8 -9.35 L-10.2 -7.65 M-14.45 -1.7 L-13.6 -2.55 L-11.9 -2.55 L-7.65 -0.85 L-5.1 -0.85 L-3.4 -1.7 L-2.55 -2.55 M-11.9 -2.55 L-7.65 0 L-4.25 0 L-3.4 -0.85 L-2.55 -2.55 L-2.55 -4.25" transform="translate(143.9 306.13) rotate(0) scale(1 1)" vector-effect="non-scaling-stroke" fill="none" stroke="#000" stroke-width="1.45" stroke-linecap="round" stroke-linejoin="round"/>
<path d="M-9.35 -17.85 L-11.9 -17 L-13.6 -14.45 L-14.45 -10.2 L-14.45 -7.65 L-13.6 -3.4 L-11.9 -0.85 L-9.35 0 L-7.65 0 L-5.1 -0.85 L-3.4 -3.4 L-2.55 -7.65 L-2.55 -10.2 L-3.4 -14.45 L-5.1 -17 L-7.65 -17.85 L-9.35 -17.85 M-9.35 -17.85 L-11.05 -17 L-11.9 -16.15 L-12.75 -14.45 L-13.6 -10.2 L-13.6 -7.65 L-12.75 -3.4 L-11.9 -1.7 L-11.05 -0.85 L-9.35 0 M-7.65 0 L-5.95 -0.85 L-5.1 -1.7 L-4.25 -3.4 L-3.4 -7.65 L-3.4 -10.2 L-4.25 -14.45 L-5.1 -16.15 L-5.95 -17 L-7.65 -17.85" transform="translate(143.9 365.72) rotate(0) scale(1 1)" vector-effect="non-scaling-stroke" fill="none" stroke="#000" stroke-width="1.45" stroke-linecap="round" stroke-linejoin="round"/>
<path d="M-11.9 -14.45 L-10.2 -15.3 L-7.65 -17.85 L-7.65 0 M-8.5 -17 L-8.5 0 M-11.9 0 L-4.25 0" transform="translate(143.9 400.32) rotate(0) scale(1 1)" vector-effect="non-scaling-stroke" fill="none" stroke="#000" stroke-width="1.45" stroke-linecap="round" stroke-linejoin="round"/>
<path d="M-34.85 -17.85 L-37.4 -17 L-39.1 -14.45 L-39.95 -10.2 L-39.95 -7.65 L-39.1 -3.4 L-37.4 -0.85 L-34.85 0 L-33.15 0 L-30.6 -0.85 L-28.9 -3.4 L-28.05 -7.65 L-28.05 -10.2 L-28.9 -14.45 L-30.6 -17 L-33.15 -17.85 L-34.85 -17.85 M-34.85 -17.85 L-36.55 -17 L-37.4 -16.15 L-38.25 -14.45 L-39.1 -10.2 L-39.1 -7.65 L-38.25 -3.4 L-37.4 -1.7 L-36.55 -0.85 L-34.85 0 M-33.15 0 L-31.45 -0.85 L-30.6 -1.7 L-29.75 -3.4 L-28.9 -7.65 L-28.9 -10.2 L-29.75 -14.45 L-30.6 -16.15 L-31.45 -17 L-33.15 -17.85 M-21.25 -1.7 L-22.1 -0.85 L-21.25 0 L-20.4 -0.85 L-21.25 -1.7 M-11.9 -14.45 L-10.2 -15.3 L-7.65 -17.85 L-7.65 0 M-8.5 -17 L-8.5 0 M-11.9 0 L-4.25 0" transform="translate(143.9 496.72) rotate(0) scale(1 1)" vector-effect="non-scaling-stroke" fill="none" stroke="#000" stroke-width="1.45" stroke-linecap="round" stroke-linejoin="round"/>
<path d="M-51.85 -17.85 L-54.4 -17 L-56.1 -14.45 L-56.95 -10.2 L-56.95 -7.65 L-56.1 -3.4 L-54.4 -0.85 L-51.85 0 L-50.15 0 L-47.6 -0.85 L-45.9 -3.4 L-45.05 -7.65 L-45.05 -10.2 L-45.9 -14.45 L-47.6 -17 L-50.15 -17.85 L-51.85 -17.85 M-51.85 -17.85 L-53.55 -17 L-54.4 -16.15 L-55.25 -14.45 L-56.1 -10.2 L-56.1 -7.65 L-55.25 -3.4 L-54.4 -1.7 L-53.55 -0.85 L-51.85 0 M-50.15 0 L-48.45 -0.85 L-47.6 -1.7 L-46.75 -3.4 L-45.9 -7.65 L-45.9 -10.2 L-46.75 -14.45 L-47.6 -16.15 L-48.45 -17 L-50.15 -17.85 M-38.25 -1.7 L-39.1 -0.85 L-38.25 0 L-37.4 -0.85 L-38.25 -1.7 M-26.35 -17.85 L-28.9 -17 L-30.6 -14.45 L-31.45 -10.2 L-31.45 -7.65 L-30.6 -3.4 L-28.9 -0.85 L-26.35 0 L-24.65 0 L-22.1 -0.85 L-20.4 -3.4 L-19.55 -7.65 L-19.55 -10.2 L-20.4 -14.45 L-22.1 -17 L-24.65 -17.85 L-26.35 -17.85 M-26.35 -17.85 L-28.05 -17 L-28.9 -16.15 L-29.75 -14.45 L-30.6 -10.2 L-30.6 -7.65 L-29.75 -3.4 L-28.9 -1.7 L-28.05 -0.85 L-26.35 0 M-24.65 0 L-22.95 -0.85 L-22.1 -1.7 L-21.25 -3.4 L-20.4 -7.65 L-20.4 -10.2 L-21.25 -14.45 L-22.1 -16.15 L-22.95 -17 L-24.65 -17.85 M-11.9 -14.45 L-10.2 -15.3 L-7.65 -17.85 L-7.65 0 M-8.5 -17 L-8.5 0 M-11.9 0 L-4.25 0" transform="translate(143.9 593.12) rotate(0) scale(1 1)" vector-effect="non-scaling-stroke" fill="none" stroke="#000" stroke-width="1.45" stroke-linecap="round" stroke-linejoin="round"/>
<path d="M-68.85 -17.85 L-71.4 -17 L-73.1 -14.45 L-73.95 -10.2 L-73.95 -7.65 L-73.1 -3.4 L-71.4 -0.85 L-68.85 0 L-67.15 0 L-64.6 -0.85 L-62.9 -3.4 L-62.05 -7.65 L-62.05 -10.2 L-62.9 -14.45 L-64.6 -17 L-67.15 -17.85 L-68.85 -17.85 M-68.85 -17.85 L-70.55 -17 L-71.4 -16.15 L-72.25 -14.45 L-73.1 -10.2 L-73.1 -7.65 L-72.25 -3.4 L-71.4 -1.7 L-70.55 -0.85 L-68.85 0 M-67.15 0 L-65.45 -0.85 L-64.6 -1.7 L-63.75 -3.4 L-62.9 -7.65 L-62.9 -10.2 L-63.75 -14.45 L-64.6 -16.15 L-65.45 -17 L-67.15 -17.85 M-55.25 -1.7 L-56.1 -0.85 L-55.25 0 L-54.4 -0.85 L-55.25 -1.7 M-43.35 -17.85 L-45.9 -17 L-47.6 -14.45 L-48.45 -10.2 L-48.45 -7.65 L-47.6 -3.4 L-45.9 -0.85 L-43.35 0 L-41.65 0 L-39.1 -0.85 L-37.4 -3.4 L-36.55 -7.65 L-36.55 -10.2 L-37.4 -14.45 L-39.1 -17 L-41.65 -17.85 L-43.35 -17.85 M-43.35 -17.85 L-45.05 -17 L-45.9 -16.15 L-46.75 -14.45 L-47.6 -10.2 L-47.6 -7.65 L-46.75 -3.4 L-45.9 -1.7 L-45.05 -0.85 L-43.35 0 M-41.65 0 L-39.95 -0.85 L-39.1 -1.7 L-38.25 -3.4 L-37.4 -7.65 L-37.4 -10.2 L-38.25 -14.45 L-39.1 -16.15 L-39.95 -17 L-41.65 -17.85 M-26.35 -17.85 L-28.9 -17 L-30.6 -14.45 L-31.45 -10.2 L-31.45 -7.65 L-30.6 -3.4 L-28.9 -0.85 L-26.35 0 L-24.65 0 L-22.1 -0.85 L-20.4 -3.4 L-19.55 -7.65 L-19.55 -10.2 L-20.4 -14.45 L-22.1 -17 L-24.65 -17.85 L-26.35 -17.85 M-26.35 -17.85 L-28.05 -17 L-28.9 -16.15 L-29.75 -14.45 L-30.6 -10.2 L-30.6 -7.65 L-29.75 -3.4 L-28.9 -1.7 L-28.05 -0.85 L-26.35 0 M-24.65 0 L-22.95 -0.85 L-22.1 -1.7 L-21.25 -3.4 L-20.4 -7.65 L-20.4 -10.2 L-21.25 -14.45 L-22.1 -16.15 L-22.95 -17 L-24.65 -17.85 M-11.9 -14.45 L-10.2 -15.3 L-7.65 -17.85 L-7.65 0 M-8.5 -17 L-8.5 0 M-11.9 0 L-4.25 0" transform="translate(143.9 689.52) rotate(0) scale(1 1)" vector-effect="non-scaling-stroke" fill="none" stroke="#000" stroke-width="1.45" stroke-linecap="round" stroke-linejoin="round"/>
<path d="M-5.1 -14.45 L-4.25 -13.6 L-5.1 -12.75 L-5.95 -13.6 L-5.95 -14.45 L-5.1 -16.15 L-4.25 -17 L-1.7 -17.85 L1.7 -17.85 L4.25 -17 L5.1 -16.15 L5.95 -14.45 L5.95 -12.75 L5.1 -11.05 L2.55 -9.35 L-1.7 -7.65 L-3.4 -6.8 L-5.1 -5.1 L-5.95 -2.55 L-5.95 0 M1.7 -17.85 L3.4 -17 L4.25 -16.15 L5.1 -14.45 L5.1 -12.75 L4.25 -11.05 L1.7 -9.35 L-1.7 -7.65 M-5.95 -1.7 L-5.1 -2.55 L-3.4 -2.55 L0.85 -0.85 L3.4 -0.85 L5.1 -1.7 L5.95 -2.55 M-3.4 -2.55 L0.85 0 L4.25 0 L5.1 -0.85 L5.95 -2.55 L5.95 -4.25" transform="translate(225.72 733.2) rotate(0) scale(1 1)" vector-effect="non-scaling-stroke" fill="none" stroke="#000" stroke-width="1.45" stroke-linecap="round" stroke-linejoin="round"/>
<path d="M1.7 -16.15 L1.7 0 M2.55 -17.85 L2.55 0 M2.55 -17.85 L-6.8 -5.1 L6.8 -5.1 M-0.85 0 L5.1 0" transform="translate(358.17 733.2) rotate(0) scale(1 1)" vector-effect="non-scaling-stroke" fill="none" stroke="#000" stroke-width="1.45" stroke-linecap="round" stroke-linejoin="round"/>
<path d="M4.25 -15.3 L3.4 -14.45 L4.25 -13.6 L5.1 -14.45 L5.1 -15.3 L4.25 -17 L2.55 -17.85 L0 -17.85 L-2.55 -17 L-4.25 -15.3 L-5.1 -13.6 L-5.95 -10.2 L-5.95 -5.1 L-5.1 -2.55 L-3.4 -0.85 L-0.85 0 L0.85 0 L3.4 -0.85 L5.1 -2.55 L5.95 -5.1 L5.95 -5.95 L5.1 -8.5 L3.4 -10.2 L0.85 -11.05 L0 -11.05 L-2.55 -10.2 L-4.25 -8.5 L-5.1 -5.95 M0 -17.85 L-1.7 -17 L-3.4 -15.3 L-4.25 -13.6 L-5.1 -10.2 L-5.1 -5.1 L-4.25 -2.55 L-2.55 -0.85 L-0.85 0 M0.85 0 L2.55 -0.85 L4.25 -2.55 L5.1 -5.1 L5.1 -5.95 L4.25 -8.5 L2.55 -10.2 L0.85 -11.05" transform="translate(490.61 733.2) rotate(0) scale(1 1)" vector-effect="non-scaling-stroke" fill="none" stroke="#000" stroke-width="1.45" stroke-linecap="round" stroke-linejoin="round"/>
<path d="M-1.7 -17.85 L-4.25 -17 L-5.1 -15.3 L-5.1 -12.75 L-4.25 -11.05 L-1.7 -10.2 L1.7 -10.2 L4.25 -11.05 L5.1 -12.75 L5.1 -15.3 L4.25 -17 L1.7 -17.85 L-1.7 -17.85 M-1.7 -17.85 L-3.4 -17 L-4.25 -15.3 L-4.25 -12.75 L-3.4 -11.05 L-1.7 -10.2 M1.7 -10.2 L3.4 -11.05 L4.25 -12.75 L4.25 -15.3 L3.4 -17 L1.7 -17.85 M-1.7 -10.2 L-4.25 -9.35 L-5.1 -8.5 L-5.95 -6.8 L-5.95 -3.4 L-5.1 -1.7 L-4.25 -0.85 L-1.7 0 L1.7 0 L4.25 -0.85 L5.1 -1.7 L5.95 -3.4 L5.95 -6.8 L5.1 -8.5 L4.25 -9.35 L1.7 -10.2 M-1.7 -10.2 L-3.4 -9.35 L-4.25 -8.5 L-5.1 -6.8 L-5.1 -3.4 L-4.25 -1.7 L-3.4 -0.85 L-1.7 0 M1.7 0 L3.4 -0.85 L4.25 -1.7 L5.1 -3.4 L5.1 -6.8 L4.25 -8.5 L3.4 -9.35 L1.7 -10.2" transform="translate(623.06 733.2) rotate(0) scale(1 1)" vector-effect="non-scaling-stroke" fill="none" stroke="#000" stroke-width="1.45" stroke-linecap="round" stroke-linejoin="round"/>
<path d="M-11.9 -14.45 L-10.2 -15.3 L-7.65 -17.85 L-7.65 0 M-8.5 -17 L-8.5 0 M-11.9 0 L-4.25 0 M7.65 -17.85 L5.1 -17 L3.4 -14.45 L2.55 -10.2 L2.55 -7.65 L3.4 -3.4 L5.1 -0.85 L7.65 0 L9.35 0 L11.9 -0.85 L13.6 -3.4 L14.45 -7.65 L14.45 -10.2 L13.6 -14.45 L11.9 -17 L9.35 -17.85 L7.65 -17.85 M7.65 -17.85 L5.95 -17 L5.1 -16.15 L4.25 -14.45 L3.4 -10.2 L3.4 -7.65 L4.25 -3.4 L5.1 -1.7 L5.95 -0.85 L7.65 0 M9.35 0 L11.05 -0.85 L11.9 -1.7 L12.75 -3.4 L13.6 -7.65 L13.6 -10.2 L12.75 -14.45 L11.9 -16.15 L11.05 -17 L9.35 -17.85" transform="translate(755.5 733.2) rotate(0) scale(1 1)" vector-effect="non-scaling-stroke" fill="none" stroke="#000" stroke-width="1.45" stroke-linecap="round" stroke-linejoin="round"/>
<path d="M3.12 -16.8 L3.12 0 M3.93 -16.8 L3.93 0 M8.73 -12 L8.73 -5.6 M0.72 -16.8 L13.53 -16.8 L13.53 -12 L12.73 -16.8 M3.93 -8.8 L8.73 -8.8 M0.72 0 L6.33 0 M19.12 -9.6 L19.12 -8.8 L18.32 -8.8 L18.32 -9.6 L19.12 -10.4 L20.73 -11.2 L23.93 -11.2 L25.52 -10.4 L26.33 -9.6 L27.12 -8 L27.12 -2.4 L27.93 -0.8 L28.73 0 M26.33 -9.6 L26.33 -2.4 L27.12 -0.8 L28.73 0 L29.52 0 M26.33 -8 L25.52 -7.2 L20.73 -6.4 L18.32 -5.6 L17.52 -4 L17.52 -2.4 L18.32 -0.8 L20.73 0 L23.12 0 L24.73 -0.8 L26.33 -2.4 M20.73 -6.4 L19.12 -5.6 L18.32 -4 L18.32 -2.4 L19.12 -0.8 L20.73 0 M35.12 -11.2 L35.12 0 M35.92 -11.2 L35.92 0 M35.92 -8.8 L37.52 -10.4 L39.92 -11.2 L41.52 -11.2 L43.92 -10.4 L44.73 -8.8 L44.73 0 M41.52 -11.2 L43.12 -10.4 L43.92 -8.8 L43.92 0 M32.73 -11.2 L35.92 -11.2 M32.73 0 L38.33 0 M41.52 0 L47.12 0 M55.93 -16.8 L53.53 -16 L51.93 -13.6 L51.12 -9.6 L51.12 -7.2 L51.93 -3.2 L53.53 -0.8 L55.93 0 L57.53 0 L59.93 -0.8 L61.53 -3.2 L62.33 -7.2 L62.33 -9.6 L61.53 -13.6 L59.93 -16 L57.53 -16.8 L55.93 -16.8 M55.93 -16.8 L54.33 -16 L53.53 -15.2 L52.73 -13.6 L51.93 -9.6 L51.93 -7.2 L52.73 -3.2 L53.53 -1.6 L54.33 -0.8 L55.93 0 M57.53 0 L59.12 -0.8 L59.93 -1.6 L60.73 -3.2 L61.53 -7.2 L61.53 -9.6 L60.73 -13.6 L59.93 -15.2 L59.12 -16 L57.53 -16.8 M76.72 -14.4 L75.92 -13.6 L76.72 -12.8 L77.52 -13.6 L77.52 -14.4 L76.72 -16 L75.12 -16.8 L72.72 -16.8 L70.32 -16 L68.72 -14.4 L67.92 -12.8 L67.12 -9.6 L67.12 -4.8 L67.92 -2.4 L69.52 -0.8 L71.92 0 L73.52 0 L75.92 -0.8 L77.52 -2.4 L78.32 -4.8 L78.32 -5.6 L77.52 -8 L75.92 -9.6 L73.52 -10.4 L72.72 -10.4 L70.32 -9.6 L68.72 -8 L67.92 -5.6 M72.72 -16.8 L71.12 -16 L69.52 -14.4 L68.72 -12.8 L67.92 -9.6 L67.92 -4.8 L68.72 -2.4 L70.32 -0.8 L71.92 0 M73.52 0 L75.12 -0.8 L76.72 -2.4 L77.52 -4.8 L77.52 -5.6 L76.72 -8 L75.12 -9.6 L73.52 -10.4 M91.12 -14.4 L91.12 0 M83.92 -7.2 L98.32 -7.2 M105.52 -16.8 L105.52 0 M106.32 -16.8 L106.32 0 M103.12 -16.8 L112.72 -16.8 L115.12 -16 L115.92 -15.2 L116.72 -13.6 L116.72 -12 L115.92 -10.4 L115.12 -9.6 L112.72 -8.8 M112.72 -16.8 L114.32 -16 L115.12 -15.2 L115.92 -13.6 L115.92 -12 L115.12 -10.4 L114.32 -9.6 L112.72 -8.8 M106.32 -8.8 L112.72 -8.8 L115.12 -8 L115.92 -7.2 L116.72 -5.6 L116.72 -3.2 L115.92 -1.6 L115.12 -0.8 L112.72 0 L103.12 0 M112.72 -8.8 L114.32 -8 L115.12 -7.2 L115.92 -5.6 L115.92 -3.2 L115.12 -1.6 L114.32 -0.8 L112.72 0 M122.33 -6.4 L131.93 -6.4 L131.93 -8 L131.12 -9.6 L130.32 -10.4 L128.72 -11.2 L126.33 -11.2 L123.92 -10.4 L122.33 -8.8 L121.53 -6.4 L121.53 -4.8 L122.33 -2.4 L123.92 -0.8 L126.33 0 L127.93 0 L130.32 -0.8 L131.93 -2.4 M131.12 -6.4 L131.12 -8.8 L130.32 -10.4 M126.33 -11.2 L124.72 -10.4 L123.12 -8.8 L122.33 -6.4 L122.33 -4.8 L123.12 -2.4 L124.72 -0.8 L126.33 0 M146.32 -8.8 L145.52 -8 L146.32 -7.2 L147.12 -8 L147.12 -8.8 L145.52 -10.4 L143.92 -11.2 L141.52 -11.2 L139.12 -10.4 L137.52 -8.8 L136.72 -6.4 L136.72 -4.8 L137.52 -2.4 L139.12 -0.8 L141.52 0 L143.12 0 L145.52 -0.8 L147.12 -2.4 M141.52 -11.2 L139.92 -10.4 L138.32 -8.8 L137.52 -6.4 L137.52 -4.8 L138.32 -2.4 L139.92 -0.8 L141.52 0 M153.52 -16.8 L153.52 0 M154.32 -16.8 L154.32 0 M162.32 -11.2 L154.32 -3.2 M158.32 -6.4 L163.12 0 M157.52 -6.4 L162.32 0 M151.12 -16.8 L154.32 -16.8 M159.92 -11.2 L164.72 -11.2 M151.12 0 L156.72 0 M159.92 0 L164.72 0 M169.52 -6.4 L179.12 -6.4 L179.12 -8 L178.32 -9.6 L177.52 -10.4 L175.92 -11.2 L173.52 -11.2 L171.12 -10.4 L169.52 -8.8 L168.72 -6.4 L168.72 -4.8 L169.52 -2.4 L171.12 -0.8 L173.52 0 L175.12 0 L177.52 -0.8 L179.12 -2.4 M178.32 -6.4 L178.32 -8.8 L177.52 -10.4 M173.52 -11.2 L171.92 -10.4 L170.32 -8.8 L169.52 -6.4 L169.52 -4.8 L170.32 -2.4 L171.92 -0.8 L173.52 0 M185.52 -11.2 L185.52 0 M186.32 -11.2 L186.32 0 M186.32 -6.4 L187.12 -8.8 L188.72 -10.4 L190.32 -11.2 L192.72 -11.2 L193.52 -10.4 L193.52 -9.6 L192.72 -8.8 L191.92 -9.6 L192.72 -10.4 M183.12 -11.2 L186.32 -11.2 M183.12 0 L188.72 0 M199.92 -13.6 L201.52 -14.4 L203.92 -16.8 L203.92 0 M203.12 -16 L203.12 0 M199.92 0 L207.12 0 M215.12 -16.8 L213.52 -8.8 M213.52 -8.8 L215.12 -10.4 L217.52 -11.2 L219.92 -11.2 L222.32 -10.4 L223.92 -8.8 L224.72 -6.4 L224.72 -4.8 L223.92 -2.4 L222.32 -0.8 L219.92 0 L217.52 0 L215.12 -0.8 L214.32 -1.6 L213.52 -3.2 L213.52 -4 L214.32 -4.8 L215.12 -4 L214.32 -3.2 M219.92 -11.2 L221.52 -10.4 L223.12 -8.8 L223.92 -6.4 L223.92 -4.8 L223.12 -2.4 L221.52 -0.8 L219.92 0 M215.12 -16.8 L223.12 -16.8 M215.12 -16 L219.12 -16 L223.12 -16.8" transform="translate(468.7 237.2) rotate(0) scale(1 1)" vector-effect="non-scaling-stroke" fill="none" stroke="#000" stroke-width="1.45" stroke-linecap="round" stroke-linejoin="round"/>
<path d="M2.32 -16.8 L0.73 -8.8 M0.73 -8.8 L2.32 -10.4 L4.72 -11.2 L7.12 -11.2 L9.53 -10.4 L11.12 -8.8 L11.93 -6.4 L11.93 -4.8 L11.12 -2.4 L9.53 -0.8 L7.12 0 L4.72 0 L2.32 -0.8 L1.52 -1.6 L0.73 -3.2 L0.73 -4 L1.52 -4.8 L2.32 -4 L1.52 -3.2 M7.12 -11.2 L8.72 -10.4 L10.32 -8.8 L11.12 -6.4 L11.12 -4.8 L10.32 -2.4 L8.72 -0.8 L7.12 0 M2.32 -16.8 L10.32 -16.8 M2.32 -16 L6.32 -16 L10.32 -16.8 M18.32 -1.6 L17.52 -0.8 L18.32 0 L19.12 -0.8 L18.32 -1.6 M34.33 -14.4 L33.53 -13.6 L34.33 -12.8 L35.12 -13.6 L35.12 -14.4 L34.33 -16 L32.73 -16.8 L30.32 -16.8 L27.93 -16 L26.32 -14.4 L25.52 -12.8 L24.72 -9.6 L24.72 -4.8 L25.52 -2.4 L27.12 -0.8 L29.52 0 L31.12 0 L33.53 -0.8 L35.12 -2.4 L35.93 -4.8 L35.93 -5.6 L35.12 -8 L33.53 -9.6 L31.12 -10.4 L30.32 -10.4 L27.93 -9.6 L26.32 -8 L25.52 -5.6 M30.32 -16.8 L28.72 -16 L27.12 -14.4 L26.32 -12.8 L25.52 -9.6 L25.52 -4.8 L26.32 -2.4 L27.93 -0.8 L29.52 0 M31.12 0 L32.73 -0.8 L34.33 -2.4 L35.12 -4.8 L35.12 -5.6 L34.33 -8 L32.73 -9.6 L31.12 -10.4 M67.12 -14.4 L54.33 -7.2 L67.12 0 M94.33 -11.2 L85.53 0 M95.12 -11.2 L86.33 0 M86.33 -11.2 L85.53 -8 L85.53 -11.2 L95.12 -11.2 M85.53 0 L95.12 0 L95.12 -3.2 L94.33 0 M126.33 -14.4 L113.53 -7.2 L126.33 0 M146.32 -16.8 L144.72 -8.8 M144.72 -8.8 L146.32 -10.4 L148.72 -11.2 L151.12 -11.2 L153.52 -10.4 L155.12 -8.8 L155.92 -6.4 L155.92 -4.8 L155.12 -2.4 L153.52 -0.8 L151.12 0 L148.72 0 L146.32 -0.8 L145.52 -1.6 L144.72 -3.2 L144.72 -4 L145.52 -4.8 L146.32 -4 L145.52 -3.2 M151.12 -11.2 L152.72 -10.4 L154.32 -8.8 L155.12 -6.4 L155.12 -4.8 L154.32 -2.4 L152.72 -0.8 L151.12 0 M146.32 -16.8 L154.32 -16.8 M146.32 -16 L150.32 -16 L154.32 -16.8 M162.32 -1.6 L161.52 -0.8 L162.32 0 L163.12 -0.8 L162.32 -1.6 M172.72 -16.8 L170.32 -16 L169.52 -14.4 L169.52 -12 L170.32 -10.4 L172.72 -9.6 L175.92 -9.6 L178.32 -10.4 L179.12 -12 L179.12 -14.4 L178.32 -16 L175.92 -16.8 L172.72 -16.8 M172.72 -16.8 L171.12 -16 L170.32 -14.4 L170.32 -12 L171.12 -10.4 L172.72 -9.6 M175.92 -9.6 L177.52 -10.4 L178.32 -12 L178.32 -14.4 L177.52 -16 L175.92 -16.8 M172.72 -9.6 L170.32 -8.8 L169.52 -8 L168.72 -6.4 L168.72 -3.2 L169.52 -1.6 L170.32 -0.8 L172.72 0 L175.92 0 L178.32 -0.8 L179.12 -1.6 L179.92 -3.2 L179.92 -6.4 L179.12 -8 L178.32 -8.8 L175.92 -9.6 M172.72 -9.6 L171.12 -8.8 L170.32 -8 L169.52 -6.4 L169.52 -3.2 L170.32 -1.6 L171.12 -0.8 L172.72 0 M175.92 0 L177.52 -0.8 L178.32 -1.6 L179.12 -3.2 L179.12 -6.4 L178.32 -8 L177.52 -8.8 L175.92 -9.6" transform="translate(468.7 284.2) rotate(0) scale(1 1)" vector-effect="non-scaling-stroke" fill="none" stroke="#000" stroke-width="1.45" stroke-linecap="round" stroke-linejoin="round"/>
<path d="M3.12 -16.8 L3.12 -4.8 L3.93 -2.4 L5.53 -0.8 L7.93 0 L9.53 0 L11.93 -0.8 L13.53 -2.4 L14.33 -4.8 L14.33 -16.8 M3.93 -16.8 L3.93 -4.8 L4.73 -2.4 L6.33 -0.8 L7.93 0 M0.72 -16.8 L6.33 -16.8 M11.93 -16.8 L16.73 -16.8 M22.33 -11.2 L22.33 0 M23.13 -11.2 L23.13 0 M23.13 -8.8 L24.73 -10.4 L27.13 -11.2 L28.73 -11.2 L31.12 -10.4 L31.93 -8.8 L31.93 0 M28.73 -11.2 L30.33 -10.4 L31.12 -8.8 L31.12 0 M19.93 -11.2 L23.13 -11.2 M19.93 0 L25.53 0 M28.73 0 L34.33 0 M39.93 -16.8 L39.13 -16 L39.93 -15.2 L40.73 -16 L39.93 -16.8 M39.93 -11.2 L39.93 0 M40.73 -11.2 L40.73 0 M37.53 -11.2 L40.73 -11.2 M37.53 0 L43.13 0 M52.73 -16 L51.93 -15.2 L52.73 -14.4 L53.53 -15.2 L53.53 -16 L52.73 -16.8 L51.13 -16.8 L49.53 -16 L48.73 -14.4 L48.73 0 M51.13 -16.8 L50.33 -16 L49.53 -14.4 L49.53 0 M46.33 -11.2 L52.73 -11.2 M46.33 0 L51.93 0 M62.33 -11.2 L59.93 -10.4 L58.33 -8.8 L57.53 -6.4 L57.53 -4.8 L58.33 -2.4 L59.93 -0.8 L62.33 0 L63.93 0 L66.33 -0.8 L67.93 -2.4 L68.73 -4.8 L68.73 -6.4 L67.93 -8.8 L66.33 -10.4 L63.93 -11.2 L62.33 -11.2 M62.33 -11.2 L60.73 -10.4 L59.13 -8.8 L58.33 -6.4 L58.33 -4.8 L59.13 -2.4 L60.73 -0.8 L62.33 0 M63.93 0 L65.53 -0.8 L67.12 -2.4 L67.93 -4.8 L67.93 -6.4 L67.12 -8.8 L65.53 -10.4 L63.93 -11.2 M75.12 -11.2 L75.12 0 M75.92 -11.2 L75.92 0 M75.92 -6.4 L76.72 -8.8 L78.33 -10.4 L79.92 -11.2 L82.33 -11.2 L83.12 -10.4 L83.12 -9.6 L82.33 -8.8 L81.53 -9.6 L82.33 -10.4 M72.72 -11.2 L75.92 -11.2 M72.72 0 L78.33 0 M88.72 -11.2 L88.72 0 M89.52 -11.2 L89.52 0 M89.52 -8.8 L91.12 -10.4 L93.52 -11.2 L95.12 -11.2 L97.52 -10.4 L98.32 -8.8 L98.32 0 M95.12 -11.2 L96.72 -10.4 L97.52 -8.8 L97.52 0 M98.32 -8.8 L99.92 -10.4 L102.32 -11.2 L103.92 -11.2 L106.32 -10.4 L107.12 -8.8 L107.12 0 M103.92 -11.2 L105.52 -10.4 L106.32 -8.8 L106.32 0 M86.32 -11.2 L89.52 -11.2 M86.32 0 L91.92 0 M95.12 0 L100.72 0 M103.92 0 L109.52 0" transform="translate(307.2 581) rotate(0) scale(0.99 1)" vector-effect="non-scaling-stroke" fill="none" stroke="#000" stroke-width="1.45" stroke-linecap="round" stroke-linejoin="round"/>
<path d="M2.73 -16.8 L2.73 0 M3.45 -16.8 L3.45 0 M0.57 -16.8 L11.37 -16.8 L11.37 -12 L10.65 -16.8 M0.57 0 L5.61 0 M14.49 -1.84 L14.49 8.24 M14.96 -1.84 L14.96 8.24 M20.73 -1.84 L20.73 8.24 M21.2 -1.84 L21.2 8.24 M13.05 -1.84 L16.41 -1.84 M19.29 -1.84 L22.64 -1.84 M14.96 2.96 L20.73 2.96 M13.05 8.24 L16.41 8.24 M19.29 8.24 L22.64 8.24 M26 -1.84 L26 8.24 M26.48 -1.84 L26.48 8.24 M24.57 -1.84 L27.93 -1.84 M24.57 8.24 L27.93 8.24 M50.8 -16 L50.01 -15.2 L50.8 -14.4 L51.61 -15.2 L51.61 -16 L50.8 -16.8 L49.2 -16.8 L47.61 -16 L46.8 -14.4 L46.8 0 M49.2 -16.8 L48.41 -16 L47.61 -14.4 L47.61 0 M44.41 -11.2 L50.8 -11.2 M44.41 0 L50.01 0 M57.2 -16.8 L57.2 0 M58 -16.8 L58 0 M54.8 -16.8 L58 -16.8 M54.8 0 L60.41 0 M66 -11.2 L66 -2.4 L66.8 -0.8 L69.2 0 L70.8 0 L73.2 -0.8 L74.8 -2.4 M66.8 -11.2 L66.8 -2.4 L67.6 -0.8 L69.2 0 M74.8 -11.2 L74.8 0 M75.6 -11.2 L75.6 0 M63.6 -11.2 L66.8 -11.2 M72.41 -11.2 L75.6 -11.2 M74.8 0 L78 0 M91.6 -8.8 L90.8 -8 L91.6 -7.2 L92.4 -8 L92.4 -8.8 L90.8 -10.4 L89.2 -11.2 L86.8 -11.2 L84.4 -10.4 L82.8 -8.8 L82 -6.4 L82 -4.8 L82.8 -2.4 L84.4 -0.8 L86.8 0 L88.4 0 L90.8 -0.8 L92.4 -2.4 M86.8 -11.2 L85.2 -10.4 L83.6 -8.8 L82.8 -6.4 L82.8 -4.8 L83.6 -2.4 L85.2 -0.8 L86.8 0 M98.8 -16.8 L98.8 -3.2 L99.6 -0.8 L101.2 0 L102.8 0 L104.41 -0.8 L105.2 -2.4 M99.6 -16.8 L99.6 -3.2 L100.4 -0.8 L101.2 0 M96.4 -11.2 L102.8 -11.2 M117.2 -9.6 L118 -11.2 L118 -8 L117.2 -9.6 L116.41 -10.4 L114.8 -11.2 L111.6 -11.2 L110 -10.4 L109.2 -9.6 L109.2 -8 L110 -7.2 L111.6 -6.4 L115.6 -4.8 L117.2 -4 L118 -3.2 M109.2 -8.8 L110 -8 L111.6 -7.2 L115.6 -5.6 L117.2 -4.8 L118 -4 L118 -1.6 L117.2 -0.8 L115.6 0 L112.4 0 L110.8 -0.8 L110 -1.6 L109.2 -3.2 L109.2 0 L110 -1.6" transform="translate(307.2 624) rotate(0) scale(1 1)" vector-effect="non-scaling-stroke" fill="none" stroke="#000" stroke-width="1.45" stroke-linecap="round" stroke-linejoin="round"/>
<path d="M6.33 -16.8 L6.33 0 M7.12 -16.8 L7.12 0 M1.53 -16.8 L0.72 -12 L0.72 -16.8 L12.73 -16.8 L12.73 -12 L11.93 -16.8 M3.93 0 L9.53 0 M16.25 -1.84 L16.25 8.24 M16.73 -1.84 L16.73 8.24 M14.8 -1.84 L18.16 -1.84 M14.8 8.24 L18.16 8.24 M27.29 -0.4 L27.77 1.04 L27.77 -1.84 L27.29 -0.4 L26.32 -1.36 L24.88 -1.84 L23.93 -1.84 L22.48 -1.36 L21.52 -0.4 L21.05 0.56 L20.57 2 L20.57 4.4 L21.05 5.84 L21.52 6.8 L22.48 7.76 L23.93 8.24 L24.88 8.24 L26.32 7.76 L27.29 6.8 M23.93 -1.84 L22.96 -1.36 L22 -0.4 L21.52 0.56 L21.05 2 L21.05 4.4 L21.52 5.84 L22 6.8 L22.96 7.76 L23.93 8.24 M27.29 4.4 L27.29 8.24 M27.77 4.4 L27.77 8.24 M25.84 4.4 L29.2 4.4 M32.56 -1.84 L32.56 8.24 M33.05 -1.84 L35.92 6.8 M32.56 -1.84 L35.92 8.24 M39.28 -1.84 L35.92 8.24 M39.28 -1.84 L39.28 8.24 M39.77 -1.84 L39.77 8.24 M31.12 -1.84 L33.05 -1.84 M39.28 -1.84 L41.2 -1.84 M31.12 8.24 L34 8.24 M37.84 8.24 L41.2 8.24 M63.69 -16 L62.89 -15.2 L63.69 -14.4 L64.48 -15.2 L64.48 -16 L63.69 -16.8 L62.09 -16.8 L60.48 -16 L59.69 -14.4 L59.69 0 M62.09 -16.8 L61.29 -16 L60.48 -14.4 L60.48 0 M57.29 -11.2 L63.69 -11.2 M57.29 0 L62.89 0 M70.09 -16.8 L70.09 0 M70.89 -16.8 L70.89 0 M67.69 -16.8 L70.89 -16.8 M67.69 0 L73.29 0 M78.89 -11.2 L78.89 -2.4 L79.69 -0.8 L82.09 0 L83.69 0 L86.09 -0.8 L87.69 -2.4 M79.69 -11.2 L79.69 -2.4 L80.48 -0.8 L82.09 0 M87.69 -11.2 L87.69 0 M88.49 -11.2 L88.49 0 M76.48 -11.2 L79.69 -11.2 M85.29 -11.2 L88.49 -11.2 M87.69 0 L90.89 0 M104.49 -8.8 L103.69 -8 L104.49 -7.2 L105.29 -8 L105.29 -8.8 L103.69 -10.4 L102.09 -11.2 L99.69 -11.2 L97.29 -10.4 L95.69 -8.8 L94.89 -6.4 L94.89 -4.8 L95.69 -2.4 L97.29 -0.8 L99.69 0 L101.29 0 L103.69 -0.8 L105.29 -2.4 M99.69 -11.2 L98.09 -10.4 L96.49 -8.8 L95.69 -6.4 L95.69 -4.8 L96.49 -2.4 L98.09 -0.8 L99.69 0 M111.69 -16.8 L111.69 -3.2 L112.49 -0.8 L114.09 0 L115.69 0 L117.29 -0.8 L118.09 -2.4 M112.49 -16.8 L112.49 -3.2 L113.29 -0.8 L114.09 0 M109.29 -11.2 L115.69 -11.2 M130.09 -9.6 L130.89 -11.2 L130.89 -8 L130.09 -9.6 L129.29 -10.4 L127.69 -11.2 L124.49 -11.2 L122.89 -10.4 L122.09 -9.6 L122.09 -8 L122.89 -7.2 L124.49 -6.4 L128.49 -4.8 L130.09 -4 L130.89 -3.2 M122.09 -8.8 L122.89 -8 L124.49 -7.2 L128.49 -5.6 L130.09 -4.8 L130.89 -4 L130.89 -1.6 L130.09 -0.8 L128.49 0 L125.29 0 L123.69 -0.8 L122.89 -1.6 L122.09 -3.2 L122.09 0 L122.89 -1.6" transform="translate(306.2 667.8) rotate(0) scale(1 1)" vector-effect="non-scaling-stroke" fill="none" stroke="#000" stroke-width="1.45" stroke-linecap="round" stroke-linejoin="round"/>
<path d="M13.6 -19.44 L9.29 0 M13.6 -19.44 L10.73 0 M0.68 -16.45 L3.55 -19.44 L7.86 -20.93 L23.64 -20.93 M0.68 -16.45 L3.55 -17.94 L7.86 -19.44 L23.64 -19.44" transform="translate(268.9 780) rotate(0) scale(1 1)" vector-effect="non-scaling-stroke" fill="none" stroke="#000" stroke-width="1.6" stroke-linecap="round" stroke-linejoin="round"/>
<path d="M1.7 7.03 L12.46 7.03 L12.46 5.23 L11.56 3.44 L10.67 2.54 L8.87 1.64 L6.18 1.64 L3.49 2.54 L1.7 4.34 L0.8 7.03 L0.8 8.82 L1.7 11.51 L3.49 13.31 L6.18 14.2 L7.98 14.2 L10.67 13.31 L12.46 11.51 M11.56 7.03 L11.56 4.34 L10.67 2.54 M6.18 1.64 L4.39 2.54 L2.59 4.34 L1.7 7.03 L1.7 8.82 L2.59 11.51 L4.39 13.31 L6.18 14.2 M24.12 -3.74 L23.22 -2.84 L24.12 -1.94 L25.02 -2.84 L25.02 -3.74 L24.12 -4.63 L22.33 -4.63 L20.53 -3.74 L19.64 -1.94 L19.64 14.2 M22.33 -4.63 L21.43 -3.74 L20.53 -1.94 L20.53 14.2 M16.95 1.64 L24.12 1.64 M16.95 14.2 L23.22 14.2 M35.78 -3.74 L34.89 -2.84 L35.78 -1.94 L36.68 -2.84 L36.68 -3.74 L35.78 -4.63 L33.99 -4.63 L32.2 -3.74 L31.3 -1.94 L31.3 14.2 M33.99 -4.63 L33.09 -3.74 L32.2 -1.94 L32.2 14.2 M28.61 1.64 L35.78 1.64 M28.61 14.2 L34.89 14.2" transform="translate(297.8 780) rotate(0) scale(1 1)" vector-effect="non-scaling-stroke" fill="none" stroke="#000" stroke-width="1.6" stroke-linecap="round" stroke-linejoin="round"/>
<path d="M0.8 -37.38 L0.8 10.46 M2.29 -37.38 L2.29 10.46 M0.8 -37.38 L11.27 -37.38 M0.8 10.46 L11.27 10.46 M23.23 -31.4 L20.23 -16.45 M20.23 -16.45 L23.23 -19.44 L27.71 -20.93 L32.2 -20.93 L36.68 -19.44 L39.67 -16.45 L41.16 -11.96 L41.16 -8.97 L39.67 -4.49 L36.68 -1.5 L32.2 0 L27.71 0 L23.23 -1.5 L21.73 -2.99 L20.23 -5.98 L20.23 -7.48 L21.73 -8.97 L23.23 -7.48 L21.73 -5.98 M32.2 -20.93 L35.19 -19.44 L38.18 -16.45 L39.67 -11.96 L39.67 -8.97 L38.18 -4.49 L35.19 -1.5 L32.2 0 M23.23 -31.4 L38.18 -31.4 M23.23 -29.9 L30.7 -29.9 L38.18 -31.4 M59.1 -31.4 L54.62 -29.9 L51.63 -25.42 L50.13 -17.94 L50.13 -13.46 L51.63 -5.98 L54.62 -1.5 L59.1 0 L62.1 0 L66.58 -1.5 L69.57 -5.98 L71.06 -13.46 L71.06 -17.94 L69.57 -25.42 L66.58 -29.9 L62.1 -31.4 L59.1 -31.4 M59.1 -31.4 L56.12 -29.9 L54.62 -28.41 L53.12 -25.42 L51.63 -17.94 L51.63 -13.46 L53.12 -5.98 L54.62 -2.99 L56.12 -1.5 L59.1 0 M62.1 0 L65.08 -1.5 L66.58 -2.99 L68.07 -5.98 L69.57 -13.46 L69.57 -17.94 L68.07 -25.42 L66.58 -28.41 L65.08 -29.9 L62.1 -31.4 M106.94 -31.4 L106.94 0 M108.44 -31.4 L117.41 -4.49 M106.94 -31.4 L117.41 0 M127.88 -31.4 L117.41 0 M127.88 -31.4 L127.88 0 M129.37 -31.4 L129.37 0 M102.46 -31.4 L108.44 -31.4 M127.88 -31.4 L133.86 -31.4 M102.46 0 L111.43 0 M123.39 0 L133.86 0 M144.32 -20.93 L144.32 10.46 M145.81 -20.93 L145.81 10.46 M145.81 -16.45 L148.81 -19.44 L151.79 -20.93 L154.78 -20.93 L159.27 -19.44 L162.26 -16.45 L163.75 -11.96 L163.75 -8.97 L162.26 -4.49 L159.27 -1.5 L154.78 0 L151.79 0 L148.81 -1.5 L145.81 -4.49 M154.78 -20.93 L157.78 -19.44 L160.76 -16.45 L162.26 -11.96 L162.26 -8.97 L160.76 -4.49 L157.78 -1.5 L154.78 0 M139.84 -20.93 L145.81 -20.93 M139.84 10.46 L150.3 10.46 M190.67 -16.45 L189.17 -14.95 L190.67 -13.46 L192.16 -14.95 L192.16 -16.45 L189.17 -19.44 L186.18 -20.93 L181.7 -20.93 L177.21 -19.44 L174.22 -16.45 L172.73 -11.96 L172.73 -8.97 L174.22 -4.49 L177.21 -1.5 L181.7 0 L184.69 0 L189.17 -1.5 L192.16 -4.49 M181.7 -20.93 L178.71 -19.44 L175.72 -16.45 L174.22 -11.96 L174.22 -8.97 L175.72 -4.49 L178.71 -1.5 L181.7 0 M226.55 -37.38 L199.64 10.46 M237.01 -31.4 L237.01 0 M238.51 -31.4 L238.51 0 M238.51 -16.45 L241.5 -19.44 L245.98 -20.93 L248.97 -20.93 L253.46 -19.44 L254.95 -16.45 L254.95 0 M248.97 -20.93 L251.96 -19.44 L253.46 -16.45 L253.46 0 M232.53 -31.4 L238.51 -31.4 M232.53 0 L242.99 0 M248.97 0 L259.44 0 M275.88 -37.38 L275.88 10.46 M277.38 -37.38 L277.38 10.46 M266.91 -37.38 L277.38 -37.38 M266.91 10.46 L277.38 10.46" transform="translate(365.4 780.5) rotate(0) scale(1 1)" vector-effect="non-scaling-stroke" fill="none" stroke="#000" stroke-width="1.6" stroke-linecap="round" stroke-linejoin="round"/>
<path d="M7.75 -32.55 L7.75 0 M9.3 -32.55 L9.3 0 M3.1 -32.55 L21.7 -32.55 L26.35 -31 L27.9 -29.45 L29.45 -26.35 L29.45 -21.7 L27.9 -18.6 L26.35 -17.05 L21.7 -15.5 L9.3 -15.5 M21.7 -32.55 L24.8 -31 L26.35 -29.45 L27.9 -26.35 L27.9 -21.7 L26.35 -18.6 L24.8 -17.05 L21.7 -15.5 M3.1 0 L13.95 0 M51.15 -38.75 L48.05 -35.65 L44.95 -31 L41.85 -24.8 L40.3 -17.05 L40.3 -10.85 L41.85 -3.1 L44.95 3.1 L48.05 7.75 L51.15 10.85 M48.05 -35.65 L44.95 -29.45 L43.4 -24.8 L41.85 -17.05 L41.85 -10.85 L43.4 -3.1 L44.95 1.55 L48.05 7.75 M87.57 -27.9 L62.77 -13.95 L87.57 0 M111.6 -20.15 L106.95 0 M111.6 -20.15 L108.5 0 M97.65 -17.05 L100.75 -20.15 L105.4 -21.7 L122.45 -21.7 M97.65 -17.05 L100.75 -18.6 L105.4 -20.15 L122.45 -20.15 M127.57 4.96 L138.73 4.96 L138.73 3.1 L137.8 1.24 L136.87 0.31 L135.01 -0.62 L132.22 -0.62 L129.43 0.31 L127.57 2.17 L126.64 4.96 L126.64 6.82 L127.57 9.61 L129.43 11.47 L132.22 12.4 L134.08 12.4 L136.87 11.47 L138.73 9.61 M137.8 4.96 L137.8 2.17 L136.87 0.31 M132.22 -0.62 L130.36 0.31 L128.5 2.17 L127.57 4.96 L127.57 6.82 L128.5 9.61 L130.36 11.47 L132.22 12.4 M150.82 -6.2 L149.89 -5.27 L150.82 -4.34 L151.75 -5.27 L151.75 -6.2 L150.82 -7.13 L148.96 -7.13 L147.1 -6.2 L146.17 -4.34 L146.17 12.4 M148.96 -7.13 L148.03 -6.2 L147.1 -4.34 L147.1 12.4 M143.38 -0.62 L150.82 -0.62 M143.38 12.4 L149.89 12.4 M162.91 -6.2 L161.98 -5.27 L162.91 -4.34 L163.84 -5.27 L163.84 -6.2 L162.91 -7.13 L161.05 -7.13 L159.19 -6.2 L158.26 -4.34 L158.26 12.4 M161.05 -7.13 L160.12 -6.2 L159.19 -4.34 L159.19 12.4 M155.47 -0.62 L162.91 -0.62 M155.47 12.4 L161.98 12.4 M171.9 -38.75 L175 -35.65 L178.1 -31 L181.2 -24.8 L182.75 -17.05 L182.75 -10.85 L181.2 -3.1 L178.1 3.1 L175 7.75 L171.9 10.85 M175 -35.65 L178.1 -29.45 L179.65 -24.8 L181.2 -17.05 L181.2 -10.85 L179.65 -3.1 L178.1 1.55 L175 7.75" transform="translate(56.5 304.1) rotate(-90) scale(1.03 1)" vector-effect="non-scaling-stroke" fill="none" stroke="#000" stroke-width="1.6" stroke-linecap="round" stroke-linejoin="round"/>
<path d="M7.75 -32.55 L7.75 0 M9.3 -32.55 L9.3 0 M3.1 -32.55 L21.7 -32.55 L26.35 -31 L27.9 -29.45 L29.45 -26.35 L29.45 -21.7 L27.9 -18.6 L26.35 -17.05 L21.7 -15.5 L9.3 -15.5 M21.7 -32.55 L24.8 -31 L26.35 -29.45 L27.9 -26.35 L27.9 -21.7 L26.35 -18.6 L24.8 -17.05 L21.7 -15.5 M3.1 0 L13.95 0 M51.15 -38.75 L48.05 -35.65 L44.95 -31 L41.85 -24.8 L40.3 -17.05 L40.3 -10.85 L41.85 -3.1 L44.95 3.1 L48.05 7.75 L51.15 10.85 M48.05 -35.65 L44.95 -29.45 L43.4 -24.8 L41.85 -17.05 L41.85 -10.85 L43.4 -3.1 L44.95 1.55 L48.05 7.75 M62.77 -27.9 L87.57 -13.95 L62.77 0 M111.6 -20.15 L106.95 0 M111.6 -20.15 L108.5 0 M97.65 -17.05 L100.75 -20.15 L105.4 -21.7 L122.45 -21.7 M97.65 -17.05 L100.75 -18.6 L105.4 -20.15 L122.45 -20.15 M127.57 4.96 L138.73 4.96 L138.73 3.1 L137.8 1.24 L136.87 0.31 L135.01 -0.62 L132.22 -0.62 L129.43 0.31 L127.57 2.17 L126.64 4.96 L126.64 6.82 L127.57 9.61 L129.43 11.47 L132.22 12.4 L134.08 12.4 L136.87 11.47 L138.73 9.61 M137.8 4.96 L137.8 2.17 L136.87 0.31 M132.22 -0.62 L130.36 0.31 L128.5 2.17 L127.57 4.96 L127.57 6.82 L128.5 9.61 L130.36 11.47 L132.22 12.4 M150.82 -6.2 L149.89 -5.27 L150.82 -4.34 L151.75 -5.27 L151.75 -6.2 L150.82 -7.13 L148.96 -7.13 L147.1 -6.2 L146.17 -4.34 L146.17 12.4 M148.96 -7.13 L148.03 -6.2 L147.1 -4.34 L147.1 12.4 M143.38 -0.62 L150.82 -0.62 M143.38 12.4 L149.89 12.4 M162.91 -6.2 L161.98 -5.27 L162.91 -4.34 L163.84 -5.27 L163.84 -6.2 L162.91 -7.13 L161.05 -7.13 L159.19 -6.2 L158.26 -4.34 L158.26 12.4 M161.05 -7.13 L160.12 -6.2 L159.19 -4.34 L159.19 12.4 M155.47 -0.62 L162.91 -0.62 M155.47 12.4 L161.98 12.4 M171.9 -38.75 L175 -35.65 L178.1 -31 L181.2 -24.8 L182.75 -17.05 L182.75 -10.85 L181.2 -3.1 L178.1 3.1 L175 7.75 L171.9 10.85 M175 -35.65 L178.1 -29.45 L179.65 -24.8 L181.2 -17.05 L181.2 -10.85 L179.65 -3.1 L178.1 1.55 L175 7.75" transform="translate(44.2 632.1) rotate(-90) scale(1.03 1)" vector-effect="non-scaling-stroke" fill="none" stroke="#000" stroke-width="1.6" stroke-linecap="round" stroke-linejoin="round"/>
</svg>
</body></html>
